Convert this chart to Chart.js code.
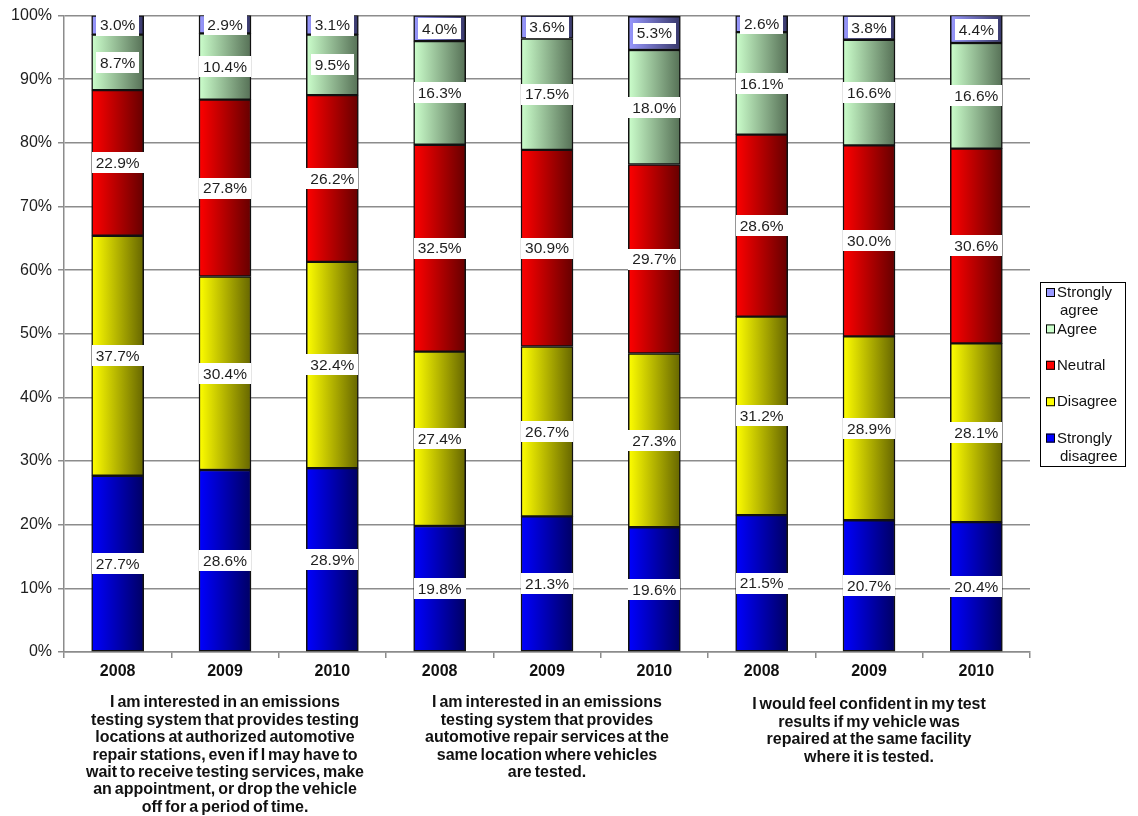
<!DOCTYPE html>
<html>
<head>
<meta charset="utf-8">
<script src="https://cdn.jsdelivr.net/npm/chart.js@4.4.0/dist/chart.umd.min.js"></script>
<style>
  html, body { margin: 0; padding: 0; background: #fff; }
  #wrap { position: relative; width: 1138px; height: 816px; }
</style>
</head>
<body>
<div id="wrap"><canvas id="c" width="1138" height="816"></canvas></div>
<script>
// Survey years, three per statement
const years = ['2008', '2009', '2010', '2008', '2009', '2010', '2008', '2009', '2010'];

// Share of responses (%) per answer
const strongDisagree = [27.7, 28.6, 28.9, 19.8, 21.3, 19.6, 21.5, 20.7, 20.4];
const disagree       = [37.7, 30.4, 32.4, 27.4, 26.7, 27.3, 31.2, 28.9, 28.1];
const neutral        = [22.9, 27.8, 26.2, 32.5, 30.9, 29.7, 28.6, 30.0, 30.6];
const agree          = [8.7, 10.4, 9.5, 16.3, 17.5, 18.0, 16.1, 16.6, 16.6];
const strongAgree    = [3.0, 2.9, 3.1, 4.0, 3.6, 5.3, 2.6, 3.8, 4.4];

// Statement shown under each group of three years
const statements = [
  ['I am interested in an emissions', 'testing system that provides testing', 'locations at authorized automotive',
   'repair stations, even if I may have to', 'wait to receive testing services, make',
   'an appointment, or drop the vehicle', 'off for a period of time.'],
  ['I am interested in an emissions', 'testing system that provides', 'automotive repair services at the',
   'same location where vehicles', 'are tested.'],
  ['I would feel confident in my test', 'results if my vehicle was', 'repaired at the same facility',
   'where it is tested.']
];

const FONT = '"Liberation Sans", Arial, sans-serif';
const BAR_W = 52;

// Horizontal light-to-dark fill across each bar
function barGradient(c0, c1) {
  return (ctx) => {
    const ch = ctx.chart;
    if (!ch.chartArea || ctx.dataIndex === undefined) return c0;
    const x = ch.scales.x.getPixelForValue(ctx.dataIndex);
    const g = ch.ctx.createLinearGradient(x - BAR_W / 2, 0, x + BAR_W / 2, 0);
    g.addColorStop(0, c0);
    g.addColorStop(1, c1);
    return g;
  };
}

const series = [
  { label: 'Strongly disagree', data: strongDisagree, c0: '#0000FF', c1: '#000064', swatch: '#0000FF' },
  { label: 'Disagree',          data: disagree,       c0: '#FFFF00', c1: '#666600', swatch: '#FFFF00' },
  { label: 'Neutral',           data: neutral,        c0: '#FF0000', c1: '#660000', swatch: '#FF0000' },
  { label: 'Agree',             data: agree,          c0: '#CCFFCC', c1: '#567056', swatch: '#CCFFCC' },
  { label: 'Strongly agree',    data: strongAgree,    c0: '#9999FF', c1: '#38386A', swatch: '#9999FF' }
];

// White boxed value label in the middle of each segment
const valueLabels = {
  id: 'valueLabels',
  afterDatasetsDraw(chart) {
    const ctx = chart.ctx;
    ctx.save();
    ctx.font = '15.5px ' + FONT;
    ctx.textAlign = 'center';
    ctx.textBaseline = 'middle';
    chart.data.datasets.forEach((ds, di) => {
      chart.getDatasetMeta(di).data.forEach((el, i) => {
        const txt = ds.data[i].toFixed(1) + '%';
        const top = Math.max(el.y, chart.chartArea.top);
        const yc = (top + el.base) / 2;
        const w = Math.round(ctx.measureText(txt).width + 8);
        const h = 21;
        ctx.fillStyle = '#ffffff';
        ctx.fillRect(Math.round(el.x - w / 2), Math.round(yc - h / 2), w, h);
        ctx.fillStyle = '#1e1e1e';
        ctx.fillText(txt, el.x, yc + 1);
      });
    });
    ctx.restore();
  }
};

// Statement text under each group and the boxed legend on the right
const extras = {
  id: 'extras',
  afterDraw(chart) {
    const ctx = chart.ctx;
    const xs = chart.scales.x;
    ctx.save();
    ctx.fillStyle = '#111';
    ctx.textAlign = 'center';
    ctx.textBaseline = 'middle';
    ctx.font = 'bold 16px ' + FONT;
    if ('wordSpacing' in ctx) ctx.wordSpacing = '-1.5px';
    statements.forEach((lines, g) => {
      const cx = xs.getPixelForValue(g * 3 + 1);
      const y0 = g === 2 ? 705 : 703;
      lines.forEach((ln, k) => ctx.fillText(ln, cx, y0 + k * 17.4));
    });
    if ('wordSpacing' in ctx) ctx.wordSpacing = '0px';

    // legend
    ctx.strokeStyle = '#000';
    ctx.lineWidth = 1;
    ctx.strokeRect(1040.5, 282.5, 85, 184);
    ctx.font = '15px ' + FONT;
    ctx.textAlign = 'left';
    const items = [...series].reverse();
    items.forEach((s, i) => {
      const y = 292 + i * 36.4;
      ctx.fillStyle = s.swatch;
      ctx.fillRect(1046, y - 4, 9, 9);
      ctx.strokeStyle = '#000';
      ctx.strokeRect(1046.5, y - 3.5, 8, 8);
      ctx.fillStyle = '#111';
      const words = s.label.split(' ');
      const lines = words.length > 1 ? [words[0], words.slice(1).join(' ')] : words;
      lines.forEach((ln, k) => ctx.fillText(ln, k === 0 ? 1057 : 1060, y + 1 + k * 17.8));
    });
    ctx.restore();
  }
};

new Chart(document.getElementById('c'), {
  type: 'bar',
  data: {
    labels: years,
    datasets: series.map(s => ({
      label: s.label,
      data: s.data,
      backgroundColor: barGradient(s.c0, s.c1),
      borderColor: '#111',
      borderWidth: 1.5,
      borderSkipped: false,
      barThickness: BAR_W
    }))
  },
  options: {
    responsive: false,
    animation: false,
    devicePixelRatio: 1,
    layout: { padding: { top: 15, right: 108, left: 0, bottom: 0 } },
    plugins: { legend: { display: false }, tooltip: { enabled: false } },
    scales: {
      x: {
        stacked: true,
        grid: { offset: true, drawOnChartArea: false, tickLength: 6, color: '#8c8c8c', lineWidth: 1.5 },
        border: { color: '#8c8c8c', width: 1.5 },
        ticks: { color: '#111', font: { family: FONT, size: 16, weight: 'bold' }, padding: 4 },
        afterFit: (s) => { s.height = 164; }
      },
      y: {
        stacked: true,
        min: 0,
        max: 100,
        grid: { color: '#8c8c8c', lineWidth: 1.5, tickLength: 6 },
        border: { color: '#8c8c8c', width: 1.5 },
        ticks: {
          stepSize: 10,
          padding: 6,
          color: '#1e1e1e',
          font: { family: FONT, size: 16 },
          callback: (v) => v + '%'
        },
        afterFit: (s) => { s.width = 64; }
      }
    }
  },
  plugins: [valueLabels, extras]
});
</script>
</body>
</html>
